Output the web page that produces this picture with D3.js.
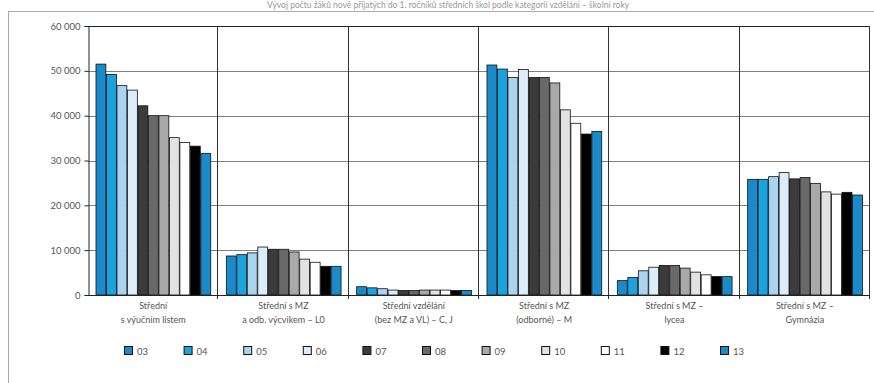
<!DOCTYPE html>
<html><head><meta charset="utf-8">
<script src="https://cdn.jsdelivr.net/npm/d3@7"></script>
<style>
body{margin:0;background:#fff;}
svg{display:block;}
text{font-family:Lato,"Open Sans",sans-serif;fill:#444;}
</style></head>
<body>
<svg id="chart" width="874" height="383"></svg>
<script>
const title = "Vývoj počtu žáků nově přijatých do 1. ročníků středních škol podle kategorií vzdělání – školní roky";
const categories = [
  ["Střední", "s výučním listem"],
  ["Střední s MZ", "a odb. výcvikem – L0"],
  ["Střední vzdělání", "(bez MZ a VL) – C, J"],
  ["Střední s MZ", "(odborné) – M"],
  ["Střední s MZ –", "lycea"],
  ["Střední s MZ –", "Gymnázia"]
];
const seriesNames = ["03","04","05","06","07","08","09","10","11","12","13"];
const seriesColors = ["#1a8acb","#1ba3dd","#a9d3ee","#dbedf9","#3b3b3b","#696969","#a9a9a9","#e2e2e2","#ffffff","#000000","#1a8acb"];
// values per series (year), one per category
const s03 = [51500, 8700, 1850, 51300, 3200, 25800];
const s04 = [49200, 9000, 1600, 50400, 3900, 25800];
const s05 = [46700, 9400, 1400, 48500, 5400, 26400];
const s06 = [45700, 10700, 1100, 50300, 6200, 27300];
const s07 = [42200, 10200, 1000, 48500, 6600, 25900];
const s08 = [40000, 10200, 1000, 48500, 6600, 26200];
const s09 = [40000, 9600, 1100, 47300, 6000, 24900];
const s10 = [35100, 8000, 1100, 41300, 5100, 23000];
const s11 = [34000, 7300, 1100, 38300, 4500, 22500];
const s12 = [33200, 6400, 1000, 35900, 4100, 22900];
const s13 = [31600, 6400, 1000, 36500, 4100, 22300];
const seriesValues = [s03,s04,s05,s06,s07,s08,s09,s10,s11,s12,s13];
const yTicks = [0,10000,20000,30000,40000,50000,60000];

const svg = d3.select("#chart");
const pL = 88, pR = 870, pT = 26, pB = 295;

// outer frame
svg.append("rect").attr("x",8.5).attr("y",11.5).attr("width",880).attr("height",400)
  .attr("fill","none").attr("stroke","#aaa").attr("stroke-width",1);

// title
svg.append("text").attr("x",448).attr("y",8).attr("text-anchor","middle")
  .attr("font-size",8.5).style("fill","#999").text(title);

const x0 = d3.scaleBand().domain(d3.range(categories.length)).range([pL,pR])
  .paddingInner(0.115).paddingOuter(0.0575);
const x1 = d3.scaleBand().domain(d3.range(seriesNames.length)).range([0,x0.bandwidth()]).padding(0);
const y = d3.scaleLinear().domain([0,60000]).range([pB,pT]);
const fmt = v => d3.format(",")(v).replace(/,/g," ");

// horizontal gridlines
svg.append("g").selectAll("line").data(yTicks.filter(d=>d>0)).join("line")
  .attr("x1",pL).attr("x2",pR).attr("y1",d=>Math.round(y(d))+0.5).attr("y2",d=>Math.round(y(d))+0.5)
  .attr("stroke",d=>d===60000?"#222":"#808080").attr("stroke-width",1);

// vertical category separators
const step = x0.step();
svg.append("g").selectAll("line").data(d3.range(1,categories.length+1)).join("line")
  .attr("x1",d=>Math.round(pL+d*step)-0.5).attr("x2",d=>Math.round(pL+d*step)-0.5)
  .attr("y1",pT).attr("y2",pB+4).attr("stroke","#333").attr("stroke-width",1);

// bars
const groups = svg.append("g").selectAll("g").data(categories).join("g")
  .attr("transform",(d,i)=>`translate(${x0(i)},0)`);
groups.selectAll("rect").data((d,i)=>seriesValues.map((s,k)=>({k,v:s[i]}))).join("rect")
  .attr("x",d=>x1(d.k)+0.5).attr("width",x1.bandwidth()-0.6)
  .attr("y",d=>y(d.v)).attr("height",d=>pB-y(d.v))
  .attr("fill",d=>seriesColors[d.k]).attr("stroke","#111").attr("stroke-width",0.8);

// y axis
const yAxis = d3.axisLeft(y).tickValues(yTicks).tickFormat(fmt).tickSize(4).tickPadding(4);
const ya = svg.append("g").attr("transform",`translate(${pL+0.5},0)`).call(yAxis);
ya.select(".domain").attr("stroke","#222");
ya.selectAll(".tick line").attr("stroke","#222");
ya.selectAll("text").attr("font-size",9.5).style("fill","#555")
  .attr("font-family","Lato,'Open Sans',sans-serif");

// x axis base
svg.append("line").attr("x1",pL).attr("x2",pR).attr("y1",pB+0.5).attr("y2",pB+0.5)
  .attr("stroke","#222");

// category labels
const lab = svg.append("g").selectAll("text").data(categories).join("text")
  .attr("text-anchor","middle").attr("font-size",9).style("fill","#555")
  .attr("x",(d,i)=>x0(i)+x0.bandwidth()/2).attr("y",309);
lab.selectAll("tspan").data(d=>d).join("tspan")
  .attr("x",function(){return d3.select(this.parentNode).attr("x");})
  .attr("dy",(d,i)=>i===0?0:14).text(d=>d);

// legend
const lg = svg.append("g").selectAll("g").data(seriesNames).join("g")
  .attr("transform",(d,i)=>`translate(${124+i*59.6},346)`);
lg.append("rect").attr("x",0.5).attr("y",0.5).attr("width",8).attr("height",8)
  .attr("fill",(d,i)=>seriesColors[i]).attr("stroke","#111").attr("stroke-width",1);
lg.append("text").attr("x",13).attr("y",8.5).attr("font-size",9.5).style("fill","#555").text(d=>d);
</script>
</body></html>
